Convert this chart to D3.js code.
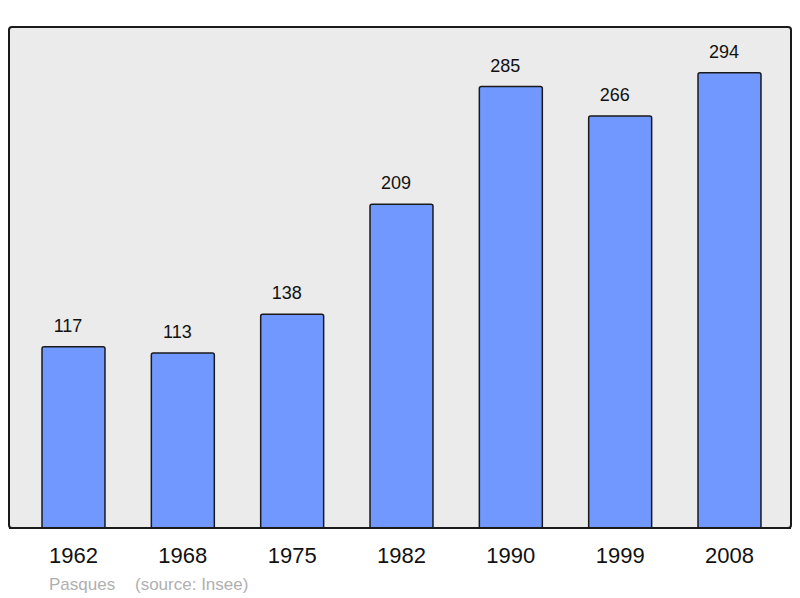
<!DOCTYPE html>
<html><head><meta charset="utf-8">
<script src="https://cdn.jsdelivr.net/npm/d3@7"></script>
<style>body{margin:0;background:#fff}svg{display:block}</style>
</head><body>
<script>
const years = ["1962","1968","1975","1982","1990","1999","2008"];
const population = [117,113,138,209,285,266,294];
const caption = "Pasques";
const source = "(source: Insee)";

const W = 800, H = 598;
const svg = d3.select("body").append("svg").attr("width", W).attr("height", H);

const frame = {x0: 9, y0: 27, x1: 791, y1: 528};
svg.append("rect").attr("x", frame.x0).attr("y", frame.y0)
  .attr("width", frame.x1 - frame.x0).attr("height", frame.y1 - frame.y0)
  .attr("rx", 3).attr("fill", "#ebebeb").attr("stroke", "none");

const x = d3.scaleBand().domain(years).range([18.83, 784.17]).paddingInner(0.424).paddingOuter(0.212);
const y = d3.scaleLinear().domain([0, 323.5]).range([frame.y1, frame.y0]);

const g = svg.append("g");
g.selectAll("rect.bar").data(years).enter().append("rect").attr("class","bar")
  .attr("x", d => x(d)).attr("width", x.bandwidth())
  .attr("y", (d,i) => y(population[i])).attr("height", (d,i) => y(0) - y(population[i]) + 4)
  .attr("rx", 2).attr("fill", "#7098ff").attr("stroke", "#1a1a1a").attr("stroke-width", 1.5);

svg.append("rect").attr("x", frame.x0).attr("y", frame.y0)
  .attr("width", frame.x1 - frame.x0).attr("height", frame.y1 - frame.y0)
  .attr("rx", 3).attr("fill", "none").attr("stroke", "#1a1a1a").attr("stroke-width", 2);
svg.append("rect").attr("x", 0).attr("y", frame.y1 + 1).attr("width", W).attr("height", 8).attr("fill", "#fff");
svg.append("line").attr("x1", frame.x0).attr("x2", frame.x1).attr("y1", frame.y1).attr("y2", frame.y1)
  .attr("stroke", "#1a1a1a").attr("stroke-width", 2);

g.selectAll("text.val").data(years).enter().append("text").attr("class","val")
  .attr("x", d => x(d) + x.bandwidth()/2 - 5.5).attr("y", (d,i) => y(population[i]) - 15)
  .attr("text-anchor","middle").attr("font-family","Liberation Sans, Arial, sans-serif")
  .attr("font-size", 18).attr("fill","#111").text((d,i) => population[i]);

const xAxis = d3.axisBottom(x).tickSize(0).tickPadding(0);
const ax = svg.append("g").attr("transform", `translate(0,${frame.y1})`).call(xAxis);
ax.select(".domain").remove();
ax.selectAll("text").attr("y", 35).attr("dy", 0)
  .attr("font-family","Liberation Sans, Arial, sans-serif").attr("font-size", 22).attr("fill","#111");

svg.append("text").attr("x", 49).attr("y", 590).attr("font-family","Liberation Sans, Arial, sans-serif")
  .attr("font-size", 17).attr("fill","#b0b0b0").text(caption);
svg.append("text").attr("x", 135).attr("y", 590).attr("font-family","Liberation Sans, Arial, sans-serif")
  .attr("font-size", 17).attr("fill","#b0b0b0").text(source);
</script>
</body></html>
